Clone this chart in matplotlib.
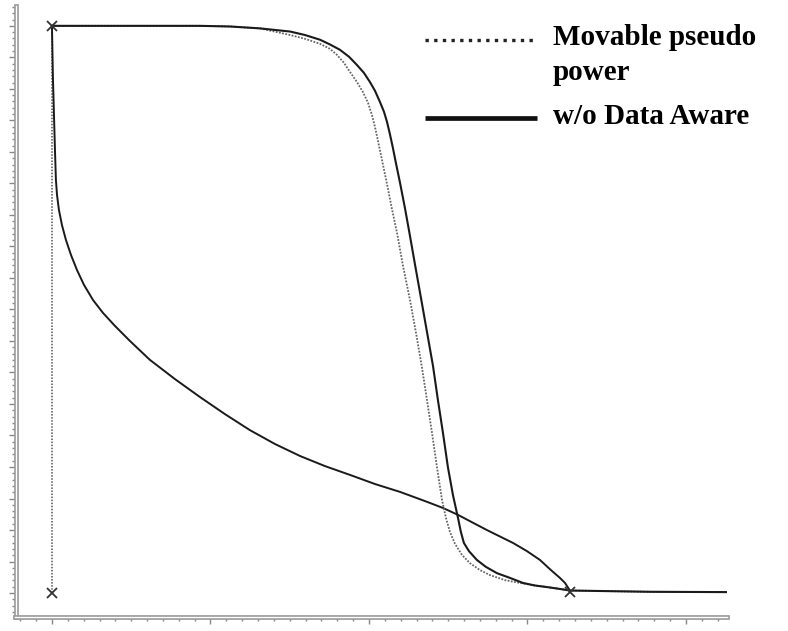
import matplotlib
matplotlib.use("Agg")
import matplotlib.pyplot as plt
import matplotlib.patheffects as pe
from matplotlib.lines import Line2D
from matplotlib.ticker import MultipleLocator, NullFormatter

# Sweep axis (arbitrary units) and node voltage (V)
x_data_aware_off = [0.0, 0.934, 1.123, 1.312, 1.502, 1.596, 1.691, 1.754, 1.817, 1.874,
                    1.924, 1.968, 2.006, 2.038, 2.069, 2.095, 2.114, 2.132, 2.151, 2.170,
                    2.196, 2.227, 2.259, 2.290, 2.328, 2.366, 2.404, 2.435, 2.467, 2.498,
                    2.530, 2.562, 2.580, 2.599, 2.631, 2.681, 2.738, 2.808, 2.890, 2.972,
                    3.047, 3.123, 3.205, 3.268, 3.773, 4.259]
y_data_aware_off = [1.800, 1.800, 1.798, 1.792, 1.782, 1.771, 1.756, 1.741, 1.724, 1.702,
                    1.676, 1.651, 1.622, 1.594, 1.559, 1.527, 1.495, 1.457, 1.413, 1.365,
                    1.302, 1.222, 1.133, 1.044, 0.937, 0.829, 0.721, 0.613, 0.508, 0.400,
                    0.311, 0.238, 0.194, 0.159, 0.133, 0.105, 0.083, 0.063, 0.048, 0.032,
                    0.024, 0.019, 0.013, 0.008, 0.004, 0.003]

x_movable = [0.0, 0.934, 1.123, 1.312, 1.502, 1.596, 1.691, 1.754, 1.798, 1.842,
             1.880, 1.924, 1.962, 1.994, 2.019, 2.038, 2.057, 2.082, 2.114, 2.145,
             2.177, 2.215, 2.259, 2.297, 2.334, 2.366, 2.397, 2.429, 2.461, 2.486,
             2.511, 2.543, 2.587, 2.637, 2.700, 2.763, 2.858, 2.953, 3.047, 3.123,
             3.205, 3.268, 3.773, 4.259]
y_movable = [1.800, 1.800, 1.798, 1.792, 1.771, 1.759, 1.743, 1.727, 1.708, 1.683,
             1.654, 1.622, 1.590, 1.556, 1.517, 1.479, 1.435, 1.375, 1.298, 1.219,
             1.143, 1.038, 0.930, 0.825, 0.717, 0.613, 0.511, 0.400, 0.295, 0.238,
             0.194, 0.156, 0.121, 0.095, 0.073, 0.057, 0.041, 0.032, 0.024, 0.019,
             0.013, 0.008, 0.004, 0.003]

x_input = [0.0, 0.006, 0.019, 0.025, 0.032, 0.044, 0.063, 0.088, 0.120, 0.158,
           0.202, 0.259, 0.322, 0.397, 0.492, 0.618, 0.776, 0.934, 1.091, 1.249,
           1.407, 1.565, 1.722, 1.880, 2.038, 2.196, 2.353, 2.467, 2.562, 2.744,
           2.909, 2.997, 3.079, 3.148, 3.205, 3.237, 3.268]
y_input = [1.800, 1.638, 1.406, 1.311, 1.263, 1.216, 1.168, 1.121, 1.073, 1.025,
           0.978, 0.930, 0.889, 0.848, 0.800, 0.740, 0.679, 0.622, 0.568, 0.517,
           0.473, 0.435, 0.403, 0.375, 0.346, 0.321, 0.292, 0.270, 0.248, 0.200,
           0.159, 0.133, 0.105, 0.073, 0.048, 0.032, 0.008]

x_initial = [0.0, 0.0]
y_initial = [1.800, 0.0]

x_markers = [0.0, 0.0, 3.268]
y_markers = [1.800, 0.0, 0.003]

labels = ["Movable pseudo\npower", "w/o Data Aware"]

W, H = 788, 631
fig = plt.figure(figsize=(W / 100, H / 100), dpi=100)
ax = fig.add_axes([15.5 / W, 14 / H, (727 - 15.5) / W, (617 - 6) / H])
ax.set_xlim(-0.230, 4.259)
ax.set_ylim(-0.076, 1.863)

ink = "#1a1a1a"
ax.plot(x_initial, y_initial, color="#555555", lw=1.1, ls=(0, (1, 1)))
ax.plot(x_input, y_input, color=ink, lw=1.4)
ax.plot(x_movable, y_movable, color="#666666", lw=1.3, ls=(0, (1, 0.8)))
ax.plot(x_data_aware_off, y_data_aware_off, color=ink, lw=1.5)
ax.plot(x_markers, y_markers, ls="none", marker="x", ms=7, mew=1.3, color="#333333")

# Double-rule axes
for side in ("top", "right"):
    ax.spines[side].set_visible(False)
for side in ("left", "bottom"):
    sp = ax.spines[side]
    sp.set_color("white")
    sp.set_linewidth(1.0)
    sp.set_path_effects([pe.Stroke(linewidth=3.4, foreground="#9a9a9a"), pe.Normal()])

ax.xaxis.set_major_locator(MultipleLocator(1.0))
ax.xaxis.set_minor_locator(MultipleLocator(0.1))
ax.yaxis.set_major_locator(MultipleLocator(0.1))
ax.yaxis.set_minor_locator(MultipleLocator(0.02))
ax.xaxis.set_major_formatter(NullFormatter())
ax.yaxis.set_major_formatter(NullFormatter())
ax.tick_params(which="major", direction="out", length=5, width=1.0, color="#888888")
ax.tick_params(which="minor", direction="out", length=3, width=1.0, color="#888888")

# Legend drawn in figure space
txt_kw = dict(family=["Liberation Serif", "DejaVu Serif"], weight="bold",
              fontsize=21, color="black", va="baseline", ha="left")
fig.add_artist(Line2D([425 / W, 537 / W], [1 - 40 / H] * 2, transform=fig.transFigure,
                      color="#222222", lw=2.4, ls=(0, (1, 1.6)), solid_capstyle="butt",
                      dash_capstyle="butt"))
first, second = labels[0].split("\n")
fig.text(553 / W, 1 - 45 / H, first, **txt_kw)
fig.text(553 / W, 1 - 80 / H, second, **txt_kw)
fig.add_artist(Line2D([425 / W, 537 / W], [1 - 118 / H] * 2, transform=fig.transFigure,
                      color="#111111", lw=3.4, solid_capstyle="butt"))
fig.text(553 / W, 1 - 124 / H, labels[1], **txt_kw)

fig.savefig("out.png", dpi=100)
